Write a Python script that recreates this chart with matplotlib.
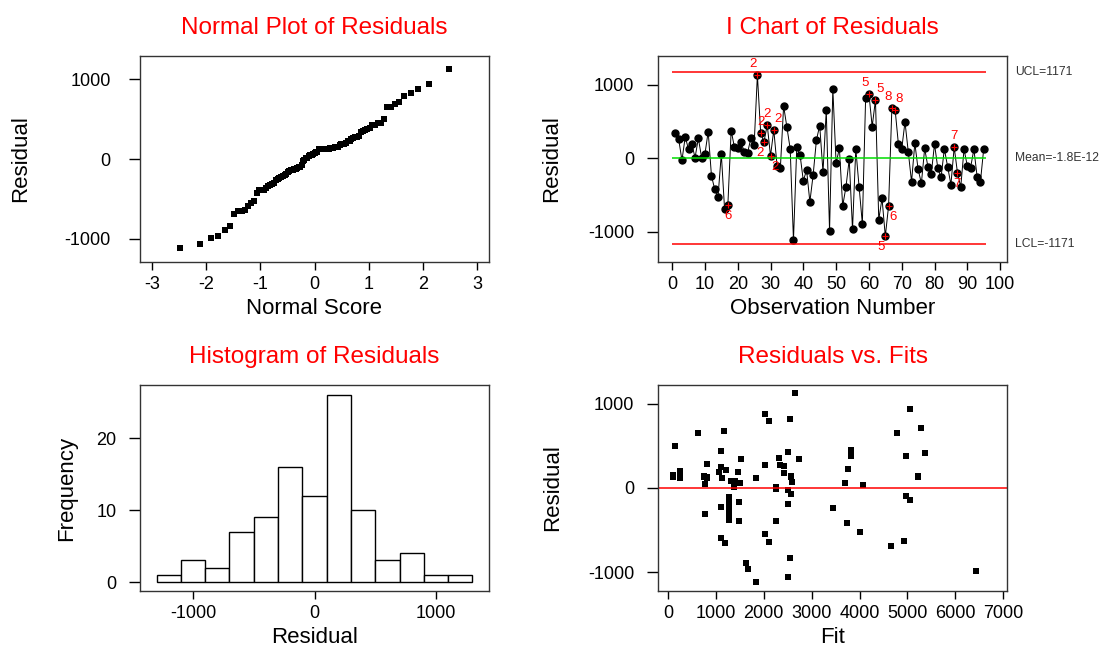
"""Minitab-style four-in-one residual plots."""
from statistics import NormalDist

import numpy as np
import matplotlib

matplotlib.use("Agg")
import matplotlib.pyplot as plt

plt.rcParams["font.family"] = ["Liberation Sans", "DejaVu Sans"]
plt.rcParams["axes.unicode_minus"] = False

# Residuals in observation order (1..95)
residuals = [
    349, 261, -28, 289, 124, 193, 9, 271, 9, 55,
    362, -239, -422, -523, 60, -693, -633, 376, 151, 138,
    225, 87, 73, 271, 174, 1133, 344, 220, 454, 32,
    385, -101, -138, 711, 422, 128, -1115, 147, 50, -305,
    -161, -592, -225, 248, 445, -188, 651, -991, 945, -69,
    138, -651, -390, -14, -968, 128, -385, -890, 821, 876,
    431, 794, -835, -546, -1060, -647, 683, 656, 188, 124,
    495, 87, -321, 206, -151, -339, 133, -119, -216, 193,
    -133, -261, 128, -115, -358, 151, -197, -390, 124, -105,
    -128, 124, -252, -317, 128,
]

# Fitted values in the same observation order
fits = [
    1518, 2431, 2502, 808, 1834, 1068, 1377, 2024, 2249, 3696,
    2326, 3436, 3739, 4006, 1504, 4652, 4926, 4968, 112, 759,
    3753, 1314, 2586, 2347, 2417, 2649, 2727, 1202, 3830, 4062,
    3830, 4975, 5046, 5278, 5362, 112, 1834, 5221, 766, 766,
    1490, 1103, 1103, 1103, 1110, 2502, 4772, 6423, 5053, 2558,
    2558, 1188, 1490, 2249, 1680, 759, 1272, 1623, 2537, 2024,
    2502, 2115, 2537, 2024, 2502, 2115, 1160, 632, 1455, 253,
    148, 1398, 1272, 253, 1272, 1272, 815, 1272, 1272, 1068,
    1272, 1272, 2558, 1272, 1272, 253, 1272, 2249, 1117, 1272,
    1272, 815, 1272, 1272, 5221,
]

# I chart control limits and failed-test flags
ucl, center, lcl = 1171, 0, -1171
test_obs = [17, 26, 27, 28, 29, 30, 31, 60, 62, 65, 66, 67, 68, 86, 87]
test_ids = ["6", "2", "2", "2", "2", "2", "2", "5", "5", "5", "6", "8", "8", "7", "7"]
test_above = [False, True, True, False, True, False, True, True, True, False,
              False, True, True, True, False]

hist_edges = np.arange(-1300, 1301, 200)

RED = "#ff0000"
title_kw = dict(color=RED, fontsize=17.5, pad=16)
label_kw = dict(fontsize=16)

res = np.array(residuals, dtype=float)
fit = np.array(fits, dtype=float)
obs = np.arange(1, len(res) + 1)

# Normal scores (Blom)
n = len(res)
nd = NormalDist()
ranks = np.arange(1, n + 1)
scores = np.array([nd.inv_cdf((r - 0.375) / (n + 0.25)) for r in ranks])
sorted_res = np.sort(res)

fig = plt.figure(figsize=(11.07, 6.52), dpi=100)
W, H = 1107, 652


def add_axes(left, top, right, bottom):
    return fig.add_axes([left / W, 1 - bottom / H, (right - left) / W, (bottom - top) / H])


def style(ax, ylab_x, ypad=9):
    ax.tick_params(axis="x", direction="out", length=6, width=1, labelsize=13, pad=4)
    ax.tick_params(axis="y", direction="out", length=8, width=1, labelsize=13, pad=ypad)
    for sp in ax.spines.values():
        sp.set_linewidth(1)
        sp.set_color("#333333")
    ax.yaxis.set_label_coords(ylab_x, 0.5)


# --- Normal plot
ax1 = add_axes(140, 56, 489, 262)
ax1.scatter(scores, sorted_res, s=22, color="black", marker="s", linewidths=0)
ax1.set_xlim(-3.22, 3.22)
ax1.set_ylim(-1290, 1290)
ax1.set_xticks(range(-3, 4))
ax1.set_yticks([-1000, 0, 1000])
ax1.set_title("Normal Plot of Residuals", **title_kw)
ax1.set_xlabel("Normal Score", **label_kw)
ax1.set_ylabel("Residual", **label_kw)
style(ax1, -0.312, ypad=13)

# --- I chart
ax2 = add_axes(658, 56, 1007, 262)
ax2.plot(obs, res, color="black", lw=0.7, marker="o", ms=5, mfc="black", mec="black")
ax2.hlines([ucl, lcl], 0, 95.7, color=RED, lw=1.1)
ax2.hlines(center, 0, 95.7, color="#00dd00", lw=1.1)
flags = list(zip(test_obs, test_ids, test_above))
for i, (o, t, up) in enumerate(flags):
    y = res[o - 1]
    ax2.plot(o, y, marker="+", color=RED, ms=4, mew=0.8)
    # spread labels of nearby flagged points that sit on the same side
    same_side = [f[0] for f in flags if f[2] == up and f[0] != o]
    dx = 0
    if any(0 < s - o <= 2 for s in same_side):
        dx -= 3
    if any(0 < o - s <= 2 for s in same_side):
        dx += 3
    ax2.annotate(t, xy=(o, y), xytext=(dx, 8 if up else -8), textcoords="offset points",
                 color=RED, fontsize=9.5, ha="center", va="center")
ax2.set_xlim(-4.3, 102.1)
ax2.set_ylim(-1410, 1390)
ax2.set_xticks(range(0, 101, 10))
ax2.set_yticks([-1000, 0, 1000])
ax2.set_title("I Chart of Residuals", **title_kw)
ax2.set_xlabel("Observation Number", **label_kw)
ax2.set_ylabel("Residual", **label_kw)
style(ax2, -0.275)
for val, txt in [(ucl, f"UCL={ucl}"), (center, "Mean=-1.8E-12"), (lcl, f"LCL={lcl}")]:
    ax2.annotate(txt, xy=(1, val), xycoords=("axes fraction", "data"),
                 xytext=(6, 0), textcoords="offset points",
                 fontsize=8.7, color="#333333", va="center", ha="left")

# --- Histogram
ax3 = add_axes(140, 385, 489, 591)
ax3.hist(res, bins=hist_edges, facecolor="white", edgecolor="black", linewidth=1)
ax3.set_xlim(-1436, 1436)
ax3.set_ylim(-1.25, 27.4)
ax3.set_xticks([-1000, 0, 1000])
ax3.set_yticks([0, 10, 20])
ax3.set_title("Histogram of Residuals", **title_kw)
ax3.set_xlabel("Residual", **label_kw)
ax3.set_ylabel("Frequency", **label_kw)
style(ax3, -0.18)

# --- Residuals vs fits
ax4 = add_axes(658, 385, 1007, 591)
ax4.scatter(fit, res, s=22, color="black", marker="s", linewidths=0)
ax4.axhline(0, color=RED, lw=1.1)
ax4.set_xlim(-210, 7080)
ax4.set_ylim(-1226, 1226)
ax4.set_xticks(range(0, 7001, 1000))
ax4.set_yticks([-1000, 0, 1000])
ax4.set_title("Residuals vs. Fits", **title_kw)
ax4.set_xlabel("Fit", **label_kw)
ax4.set_ylabel("Residual", **label_kw)
style(ax4, -0.272)

fig.savefig("out.png", dpi=100)
